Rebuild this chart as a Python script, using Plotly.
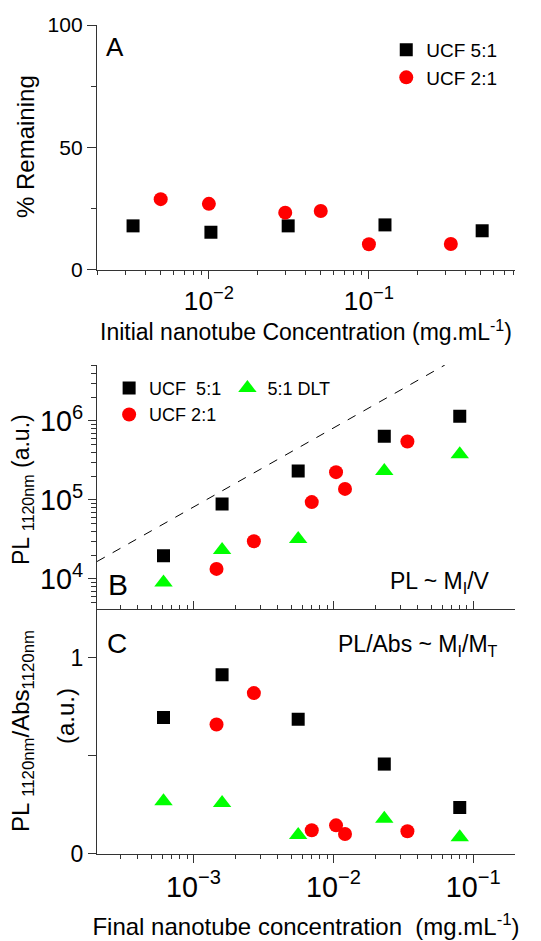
import numpy as np
import plotly.graph_objects as go

# panel A: % remaining vs initial concentration
a_conc_51 = [0.00336, 0.0103, 0.0313, 0.126, 0.51]
a_rem_51 = [18.0, 15.4, 18.0, 18.4, 16.0]
a_conc_21 = [0.005, 0.01, 0.030, 0.05, 0.1, 0.325]
a_rem_21 = [28.9, 27.0, 23.4, 24.1, 10.5, 10.6]

# panels B/C: final concentration
conc_51 = [6.1e-4, 1.6e-3, 5.6e-3, 0.0231, 0.080]
pl_51 = [1.97e4, 8.9e4, 2.33e5, 6.4e5, 1.15e6]
ratio_51 = [0.696, 0.913, 0.687, 0.458, 0.237]

conc_21 = [1.46e-3, 2.7e-3, 7.0e-3, 0.01044, 0.0121, 0.0338]
pl_21 = [1.34e4, 3.0e4, 9.4e4, 2.25e5, 1.38e5, 5.5e5]
ratio_21 = [0.66, 0.82, 0.121, 0.146, 0.102, 0.116]

conc_dlt = [6.1e-4, 1.6e-3, 5.6e-3, 0.0231, 0.080]
pl_dlt = [9.0e3, 2.33e4, 3.2e4, 2.33e5, 3.8e5]
ratio_dlt = [0.269, 0.26, 0.097, 0.179, 0.085]

# slope-1 guide line
guide_x = [2.04e-4, 0.0625]
guide_y = [1.66e4, 5.1e6]

FONT = "Arial, Liberation Sans, sans-serif"
AX = "#333"
RED = "#ff0000"
GREEN = "#00ff00"

fig = go.Figure()

fig.add_trace(go.Scatter(x=a_conc_51, y=a_rem_51, mode="markers", name="UCF 5:1",
                         marker=dict(symbol="square", size=13, color="black"),
                         xaxis="x", yaxis="y", legend="legend"))
fig.add_trace(go.Scatter(x=a_conc_21, y=a_rem_21, mode="markers", name="UCF 2:1",
                         marker=dict(symbol="circle", size=14, color=RED),
                         xaxis="x", yaxis="y", legend="legend"))

fig.add_trace(go.Scatter(x=guide_x, y=guide_y, mode="lines", showlegend=False,
                         line=dict(color="black", width=1, dash="dash"),
                         xaxis="x2", yaxis="y2"))
fig.add_trace(go.Scatter(x=conc_51, y=pl_51, mode="markers", name="UCF  5:1",
                         marker=dict(symbol="square", size=13, color="black"),
                         xaxis="x2", yaxis="y2", legend="legend2"))
fig.add_trace(go.Scatter(x=conc_21, y=pl_21, mode="markers", name="UCF 2:1",
                         marker=dict(symbol="circle", size=14, color=RED),
                         xaxis="x2", yaxis="y2", legend="legend2"))
fig.add_trace(go.Scatter(x=conc_dlt, y=pl_dlt, mode="markers", name="5:1 DLT",
                         marker=dict(symbol="triangle-up", size=16, color=GREEN),
                         xaxis="x2", yaxis="y2", legend="legend3"))

fig.add_trace(go.Scatter(x=conc_51, y=ratio_51, mode="markers", showlegend=False,
                         marker=dict(symbol="square", size=13, color="black"),
                         xaxis="x3", yaxis="y3"))
fig.add_trace(go.Scatter(x=conc_21, y=ratio_21, mode="markers", showlegend=False,
                         marker=dict(symbol="circle", size=14, color=RED),
                         xaxis="x3", yaxis="y3"))
fig.add_trace(go.Scatter(x=conc_dlt, y=ratio_dlt, mode="markers", showlegend=False,
                         marker=dict(symbol="triangle-up", size=16, color=GREEN),
                         xaxis="x3", yaxis="y3"))

dom_a = [0.7045, 1.0]
dom_b = [0.2952, 0.5899]
dom_c = [0.0, 0.2952]
xr_a = [np.log10(0.002), np.log10(0.818)]
xr_bc = [-3.69, -0.702]

def logx(rng, ticks, showlabels, size, ticklen=8, minorlen=4):
    return dict(type="log", range=rng, dtick=1, exponentformat="power", showgrid=False,
                zeroline=False, showline=True, linecolor=AX, linewidth=1.3, automargin=False,
                ticks=ticks, ticklen=ticklen, tickcolor=AX, showticklabels=showlabels,
                tickfont=dict(size=size, color="black"),
                minor=dict(ticks=ticks, ticklen=minorlen, tickcolor=AX, showgrid=False))

common = dict(showgrid=False, zeroline=False, showline=True, linecolor=AX, linewidth=1.3,
              tickcolor=AX, automargin=False)

fig.update_layout(
    width=541, height=941,
    margin=dict(l=97, r=26, t=25, b=87),
    paper_bgcolor="white", plot_bgcolor="white",
    font=dict(family=FONT, color="black"),
    xaxis=dict(**logx(xr_a, "outside", True, 21), anchor="y",
               title=dict(text="Initial nanotube Concentration (mg.mL<sup>-1</sup>)",
                          font=dict(size=23), standoff=7)),
    yaxis=dict(**common, domain=dom_a, range=[0, 100], anchor="x", ticks="outside", ticklen=9,
               tickvals=[0, 50, 100], tickfont=dict(size=21),
               minor=dict(ticks="outside", ticklen=5, tickcolor=AX, dtick=25, tick0=0)),
    xaxis4=dict(**logx(xr_a, "inside", False, 21, 6, 4), overlaying="x", side="top", anchor="y"),
    yaxis4=dict(**common, range=[0, 100], overlaying="y", side="right", anchor="x",
                ticks="inside", ticklen=6, tickvals=[0, 50, 100], showticklabels=False,
                minor=dict(ticks="inside", ticklen=4, tickcolor=AX, dtick=25, tick0=0)),

    xaxis2=dict(**logx(xr_bc, "inside", False, 23, 8, 4), anchor="y2"),
    yaxis2=dict(type="log", domain=dom_b, range=[3.616, 6.709], anchor="x2", dtick=1,
                exponentformat="power", ticks="outside", ticklen=8, tickfont=dict(size=23),
                minor=dict(ticks="outside", ticklen=5, tickcolor=AX, showgrid=False), **common),
    xaxis5=dict(**logx(xr_bc, "inside", False, 23, 6, 4), overlaying="x2", side="top", anchor="y2"),
    yaxis5=dict(type="log", range=[3.616, 6.709], overlaying="y2", side="right", anchor="x2",
                dtick=1, ticks="inside", ticklen=6, showticklabels=False,
                minor=dict(ticks="inside", ticklen=4, tickcolor=AX, showgrid=False), **common),

    xaxis3=dict(**logx(xr_bc, "outside", True, 23, 8, 4), anchor="y3",
                title=dict(text="Final nanotube concentration  (mg.mL<sup>-1</sup>)",
                           font=dict(size=24), standoff=16)),
    yaxis3=dict(**common, domain=dom_c, range=[0, 1.247], anchor="x3", ticks="outside", ticklen=8,
                tickvals=[0, 0.5, 1], ticktext=["0", "", "1"], tickfont=dict(size=23)),
    xaxis6=dict(**logx(xr_bc, "inside", False, 23, 8, 4), overlaying="x3", side="top", anchor="y3"),
    xaxis7=dict(**logx(xr_bc, "inside", False, 23, 8, 4), overlaying="x3", side="bottom", anchor="y3"),
    yaxis6=dict(**common, range=[0, 1.247], overlaying="y3", side="right", anchor="x3",
                ticks="inside", ticklen=6, tickvals=[0, 0.5, 1], showticklabels=False),

    legend=dict(x=0.692, y=0.993, xanchor="left", yanchor="top", bgcolor="rgba(0,0,0,0)",
                font=dict(size=19), tracegroupgap=0, itemwidth=30),
    legend2=dict(x=0.029, y=0.584, xanchor="left", yanchor="top", bgcolor="rgba(0,0,0,0)",
                 font=dict(size=18), tracegroupgap=0, itemwidth=30),
    legend3=dict(x=0.312, y=0.584, xanchor="left", yanchor="top", bgcolor="rgba(0,0,0,0)",
                 font=dict(size=18), tracegroupgap=0, itemwidth=30),
)

def px_x(p):
    return (p - 97) / 418

def px_y(p):
    return (854 - p) / 829

notes = [
    ("A", 115, 47, 26, "center"),
    ("B", 118, 584, 30, "center"),
    ("C", 117, 643, 28, "center"),
    ("PL ~ M<sub>I</sub>/V", 492, 582, 23, "right"),
    ("PL/Abs ~ M<sub>I</sub>/M<sub>T</sub>", 500, 645, 23, "right"),
]
for text, x, y, size, anchor in notes:
    fig.add_annotation(text=text, xref="paper", yref="paper", x=px_x(x), y=px_y(y),
                       xanchor=anchor, yanchor="middle", showarrow=False,
                       font=dict(size=size, family=FONT, color="black"))

ytitles = [
    ("% Remaining", 25, 147, 24),
    ("PL <sub>1120nm</sub> (a.u.)", 22, 490, 23),
    ("PL <sub>1120nm</sub>/Abs<sub>1120nm</sub>", 22, 731, 24),
    ("(a.u.)", 65, 716, 24),
]
for text, x, y, size in ytitles:
    fig.add_annotation(text=text, xref="paper", yref="paper", x=px_x(x), y=px_y(y),
                       xanchor="center", yanchor="middle", textangle=-90, showarrow=False,
                       font=dict(size=size, family=FONT, color="black"))

# the page body has a default 8px margin; drop it so the figure sits at the corner
fig.write_html("out.html", config={"displayModeBar": False},
               post_script="document.body.style.margin='0';")
